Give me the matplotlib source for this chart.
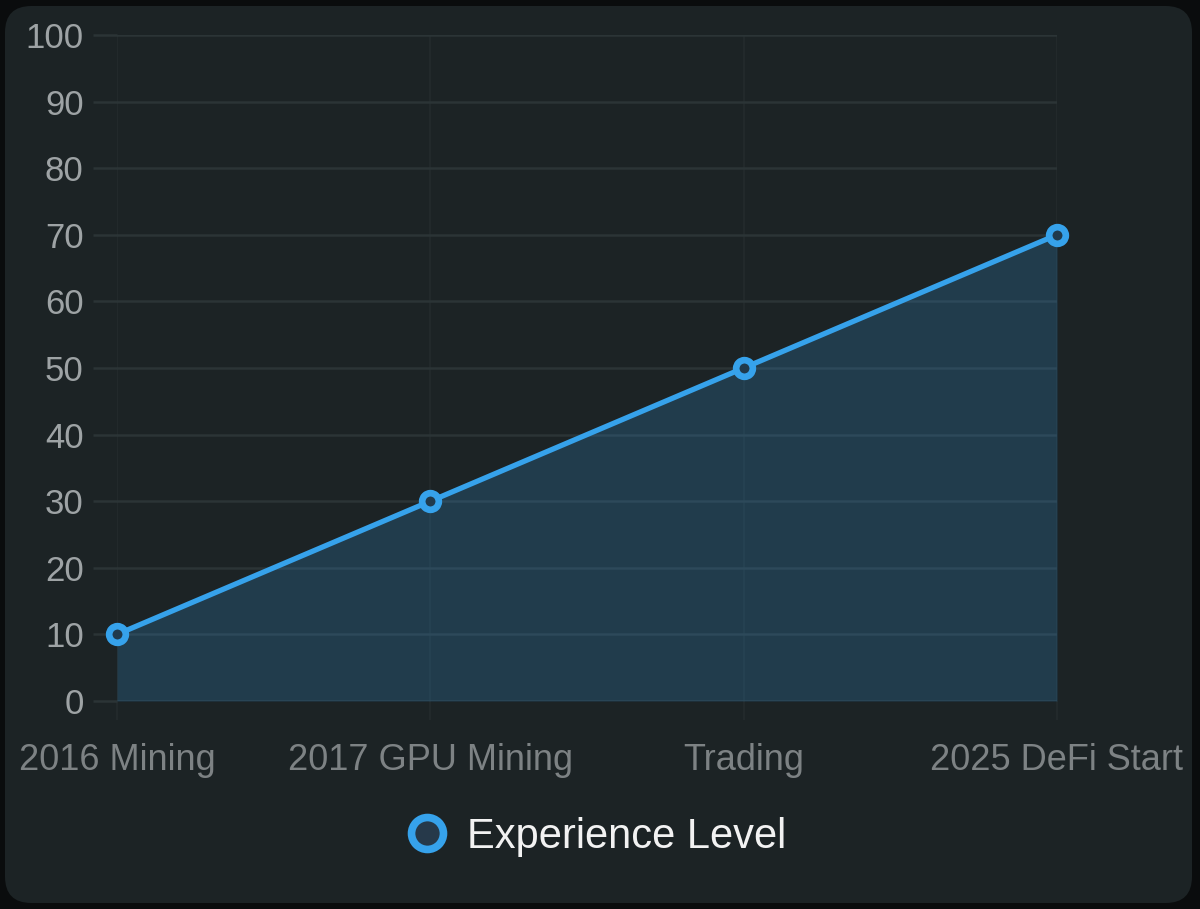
import matplotlib
matplotlib.use("Agg")
import matplotlib.pyplot as plt
from matplotlib.patches import FancyBboxPatch
from matplotlib.lines import Line2D

# Chart data
stages = ["2016 Mining", "2017 GPU Mining", "Trading", "2025 DeFi Start"]
experience = [10, 30, 50, 70]
y_ticks = list(range(0, 101, 10))
series_label = "Experience Level"

LINE_BLUE = "#36a2eb"
FILL_BLUE = (54 / 255, 162 / 255, 235 / 255, 0.2)
PANEL = "#1c2325"
OUTER = "#0a0c0d"
GRID_H = "#2b3436"
GRID_V = "#22292b"

plt.rcParams["font.family"] = ["Liberation Sans", "DejaVu Sans"]

W, H = 1200, 909
fig = plt.figure(figsize=(W / 100, H / 100), dpi=100, facecolor=OUTER)

# Rounded card behind the chart
card = FancyBboxPatch((5 / W, 6 / H), 1187 / W, 897 / H,
                      boxstyle="round,pad=0,rounding_size=0.022",
                      transform=fig.transFigure, facecolor=PANEL,
                      edgecolor="none", mutation_aspect=W / H, zorder=-5)
fig.patches.append(card)

ax = fig.add_axes([117 / W, 1 - 701 / H, (1057 - 117) / W, (701 - 35) / H])
ax.set_facecolor("none")
ax.set_zorder(2)

x = list(range(len(stages)))
ax.fill_between(x, 0, experience, color=FILL_BLUE, linewidth=0, zorder=2)
ax.plot(x, experience, color=LINE_BLUE, linewidth=3.8, zorder=3,
        marker="o", markersize=12, markeredgewidth=4.8,
        markerfacecolor="#203a4c", markeredgecolor=LINE_BLUE, clip_on=False)

ax.set_xlim(0, len(stages) - 1)
ax.set_ylim(0, 100)
ax.set_xticks(x)
ax.set_xticklabels(stages)
ax.set_yticks(y_ticks)

for s in ax.spines.values():
    s.set_visible(False)

# grid lines, ticks act as the short extension outside the plot
ax.yaxis.grid(True, color=GRID_H, linewidth=1.8, zorder=1)
ax.xaxis.grid(True, color=GRID_V, linewidth=1.5, zorder=1)
ax.set_axisbelow(True)
ax.tick_params(axis="y", length=17, width=1.8, color=GRID_H, pad=7,
               labelsize=25, labelcolor="#9ea3a5")
ax.tick_params(axis="x", length=14, width=1.5, color=GRID_V, pad=16,
               labelsize=26, labelcolor="#7d8284")

handle = Line2D([], [], linestyle="none", marker="o", markersize=23,
                markeredgewidth=5.5, markerfacecolor="#26394a",
                markeredgecolor=LINE_BLUE)
leg = fig.legend([handle], [series_label], loc="center",
                 bbox_to_anchor=(0.495, 1 - 837 / H), frameon=False,
                 fontsize=30, handletextpad=0.35, handlelength=1.2)
for t in leg.get_texts():
    t.set_color("#f2f2f2")

fig.savefig("out.png", dpi=100, facecolor=OUTER)
